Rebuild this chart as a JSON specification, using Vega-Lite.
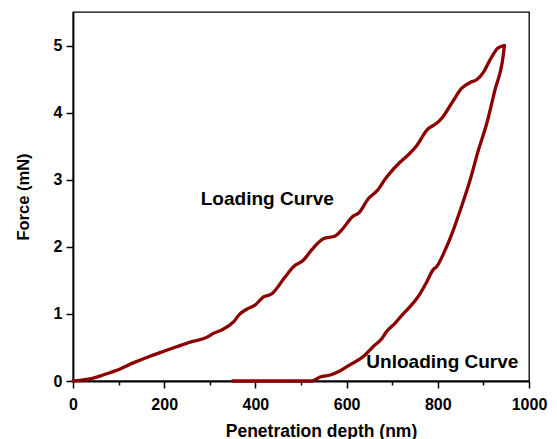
{
  "$schema": "https://vega.github.io/schema/vega-lite/v6.json",
  "width": 456,
  "height": 369,
  "autosize": {"type": "none"},
  "padding": {"left": 73, "top": 12, "right": 28, "bottom": 58},
  "background": "white",
  "config": {
    "font": "Liberation Sans",
    "view": {"stroke": "black", "strokeWidth": 1.3},
    "axis": {
      "labelFont": "Liberation Sans",
      "labelFontWeight": "bold",
      "labelFontSize": 16,
      "labelColor": "black",
      "titleFont": "Liberation Sans",
      "titleFontWeight": "bold",
      "titleColor": "black",
      "domainColor": "black",
      "domainWidth": 1.8,
      "tickColor": "black",
      "tickWidth": 1.5,
      "grid": false,
      "labelOverlap": false,
      "labelFlush": false
    }
  },
  "datasets": {
    "curves": [
      {"curve": "Loading", "depth": 0, "force": 0},
      {"curve": "Loading", "depth": 15, "force": 0.01},
      {"curve": "Loading", "depth": 37, "force": 0.03},
      {"curve": "Loading", "depth": 66, "force": 0.09},
      {"curve": "Loading", "depth": 96, "force": 0.16},
      {"curve": "Loading", "depth": 132, "force": 0.27},
      {"curve": "Loading", "depth": 169, "force": 0.37},
      {"curve": "Loading", "depth": 202, "force": 0.45},
      {"curve": "Loading", "depth": 227, "force": 0.51},
      {"curve": "Loading", "depth": 257, "force": 0.58},
      {"curve": "Loading", "depth": 293, "force": 0.65},
      {"curve": "Loading", "depth": 308, "force": 0.71},
      {"curve": "Loading", "depth": 326, "force": 0.76},
      {"curve": "Loading", "depth": 352, "force": 0.88},
      {"curve": "Loading", "depth": 366, "force": 1.0},
      {"curve": "Loading", "depth": 381, "force": 1.07},
      {"curve": "Loading", "depth": 399, "force": 1.13},
      {"curve": "Loading", "depth": 417, "force": 1.25},
      {"curve": "Loading", "depth": 436, "force": 1.3},
      {"curve": "Loading", "depth": 465, "force": 1.55},
      {"curve": "Loading", "depth": 483, "force": 1.7},
      {"curve": "Loading", "depth": 505, "force": 1.8},
      {"curve": "Loading", "depth": 523, "force": 1.95},
      {"curve": "Loading", "depth": 549, "force": 2.12},
      {"curve": "Loading", "depth": 575, "force": 2.16},
      {"curve": "Loading", "depth": 589, "force": 2.25},
      {"curve": "Loading", "depth": 615, "force": 2.46},
      {"curve": "Loading", "depth": 626, "force": 2.5},
      {"curve": "Loading", "depth": 648, "force": 2.72},
      {"curve": "Loading", "depth": 666, "force": 2.83},
      {"curve": "Loading", "depth": 688, "force": 3.04},
      {"curve": "Loading", "depth": 717, "force": 3.26},
      {"curve": "Loading", "depth": 732, "force": 3.35},
      {"curve": "Loading", "depth": 754, "force": 3.51},
      {"curve": "Loading", "depth": 776, "force": 3.74},
      {"curve": "Loading", "depth": 797, "force": 3.84},
      {"curve": "Loading", "depth": 808, "force": 3.91},
      {"curve": "Loading", "depth": 834, "force": 4.18},
      {"curve": "Loading", "depth": 852, "force": 4.36},
      {"curve": "Loading", "depth": 871, "force": 4.45},
      {"curve": "Loading", "depth": 885, "force": 4.49},
      {"curve": "Loading", "depth": 900, "force": 4.6},
      {"curve": "Loading", "depth": 914, "force": 4.78},
      {"curve": "Loading", "depth": 933, "force": 4.97},
      {"curve": "Loading", "depth": 946, "force": 5.0},
      {"curve": "Unloading", "depth": 350, "force": 0},
      {"curve": "Unloading", "depth": 524, "force": 0},
      {"curve": "Unloading", "depth": 534, "force": 0.03},
      {"curve": "Unloading", "depth": 542, "force": 0.06},
      {"curve": "Unloading", "depth": 564, "force": 0.09},
      {"curve": "Unloading", "depth": 585, "force": 0.15},
      {"curve": "Unloading", "depth": 607, "force": 0.24},
      {"curve": "Unloading", "depth": 636, "force": 0.36},
      {"curve": "Unloading", "depth": 658, "force": 0.51},
      {"curve": "Unloading", "depth": 677, "force": 0.63},
      {"curve": "Unloading", "depth": 687, "force": 0.73},
      {"curve": "Unloading", "depth": 706, "force": 0.86},
      {"curve": "Unloading", "depth": 724, "force": 1.0},
      {"curve": "Unloading", "depth": 742, "force": 1.13},
      {"curve": "Unloading", "depth": 761, "force": 1.3},
      {"curve": "Unloading", "depth": 776, "force": 1.48},
      {"curve": "Unloading", "depth": 790, "force": 1.66},
      {"curve": "Unloading", "depth": 797, "force": 1.7},
      {"curve": "Unloading", "depth": 816, "force": 1.95},
      {"curve": "Unloading", "depth": 834, "force": 2.25},
      {"curve": "Unloading", "depth": 852, "force": 2.6},
      {"curve": "Unloading", "depth": 871, "force": 3.0},
      {"curve": "Unloading", "depth": 889, "force": 3.44},
      {"curve": "Unloading", "depth": 907, "force": 3.83},
      {"curve": "Unloading", "depth": 925, "force": 4.33},
      {"curve": "Unloading", "depth": 944, "force": 4.88},
      {"curve": "Unloading", "depth": 946, "force": 5.0}
    ],
    "notes": [
      {"depth": 426, "force": 2.62, "text": "Loading Curve"},
      {"depth": 810, "force": 0.2, "text": "Unloading Curve"}
    ]
  },
  "layer": [
    {
      "data": {"name": "curves"},
      "mark": {
        "type": "line",
        "color": "#8b0000",
        "strokeWidth": 3.3,
        "strokeCap": "round",
        "strokeJoin": "round",
        "interpolate": "monotone",
        "clip": false
      },
      "encoding": {
        "x": {
          "field": "depth",
          "type": "quantitative",
          "scale": {"domain": [0, 1000], "nice": false, "zero": false},
          "axis": {
            "title": "Penetration depth (nm)",
            "titleFontSize": 17.5,
            "titleX": 248,
            "titleY": 55,
            "titleAlign": "center",
            "titleBaseline": "alphabetic",
            "values": [0, 100, 200, 300, 400, 500, 600, 700, 800, 900, 1000],
            "labelExpr": "datum.value % 200 === 0 ? datum.label : ''",
            "format": "d",
            "tickSize": {"condition": {"test": "datum.value % 200 !== 0", "value": 4}, "value": 7},
            "labelPadding": 8
          }
        },
        "y": {
          "field": "force",
          "type": "quantitative",
          "scale": {"domain": [0, 5.5], "nice": false, "zero": false},
          "axis": {
            "title": "Force (mN)",
            "titleFontSize": 16.5,
            "titleX": -44.5,
            "titleBaseline": "alphabetic",
            "titleAlign": "center",
            "values": [0, 0.5, 1, 1.5, 2, 2.5, 3, 3.5, 4, 4.5, 5],
            "format": "d",
            "labelExpr": "datum.value % 1 === 0 ? datum.label : ''",
            "tickSize": {"condition": {"test": "datum.value % 1 !== 0", "value": 4}, "value": 7},
            "labelPadding": 4
          }
        },
        "detail": {"field": "curve", "type": "nominal"}
      }
    },
    {
      "data": {"name": "notes"},
      "mark": {
        "type": "text",
        "font": "Liberation Sans",
        "fontWeight": "bold",
        "fontSize": 19,
        "align": "center",
        "baseline": "alphabetic",
        "color": "black"
      },
      "encoding": {
        "x": {"field": "depth", "type": "quantitative"},
        "y": {"field": "force", "type": "quantitative"},
        "text": {"field": "text", "type": "nominal"}
      }
    }
  ]
}
